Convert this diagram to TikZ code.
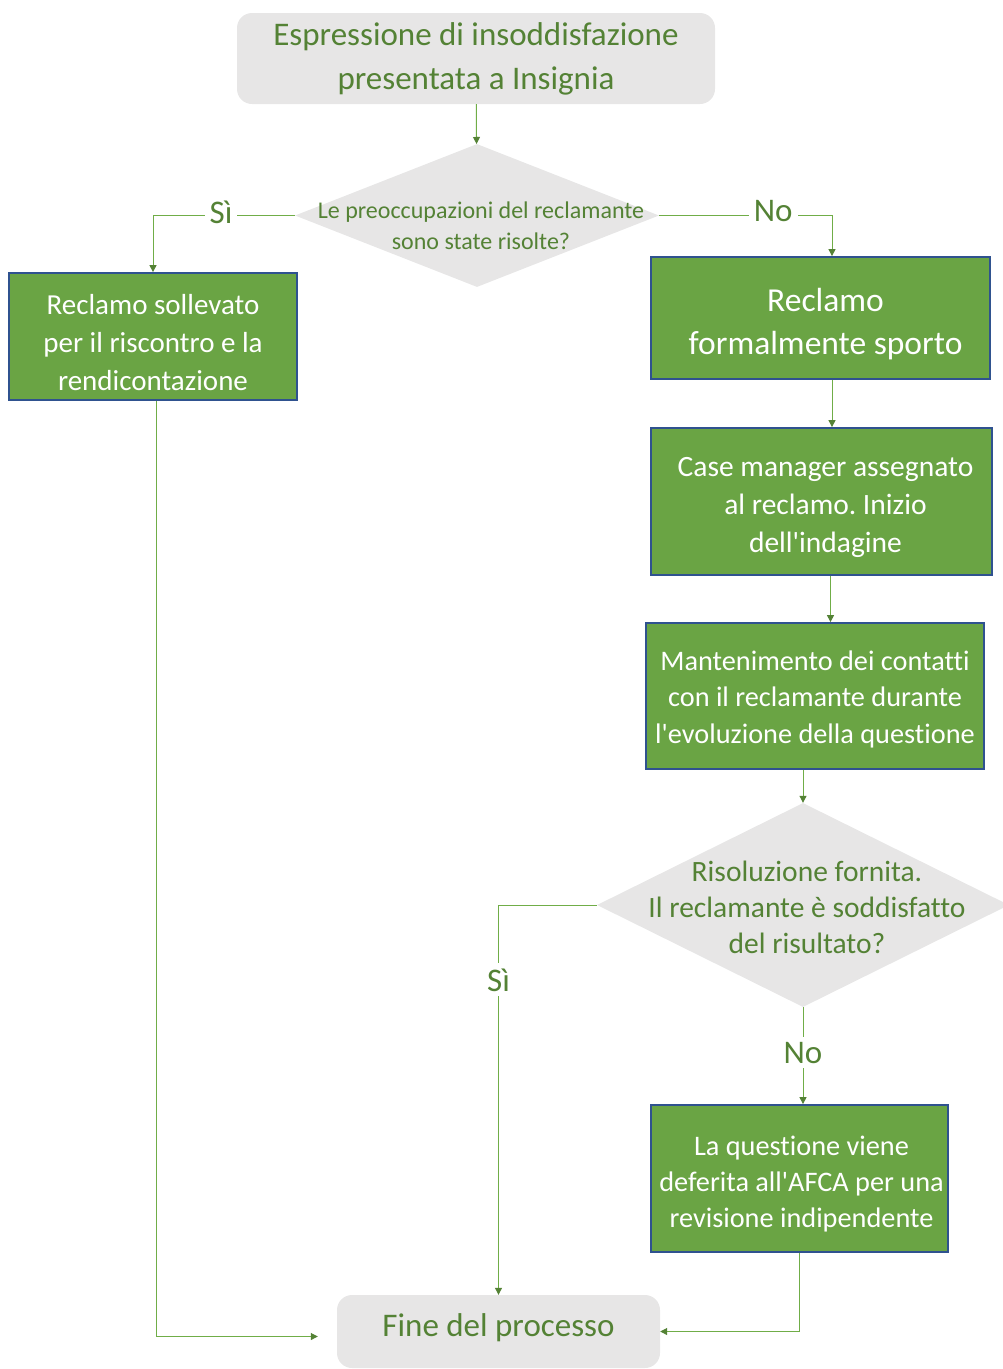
\documentclass[tikz,border=0pt]{standalone}
\usepackage{fontspec}
\setmainfont{Carlito}[Ligatures={NoCommon}]
\usepackage{tikz}
\usetikzlibrary{arrows.meta,positioning,shapes.geometric,calc}
\usepackage{xcolor}
\definecolor{boxgreen}{RGB}{106,164,68}
\definecolor{boxedge}{RGB}{47,82,143}
\definecolor{textgreen}{RGB}{84,130,53}
\definecolor{softgray}{RGB}{231,230,230}
\definecolor{linegreen}{RGB}{112,173,71}
\newcommand{\apos}{\textquotesingle}
\tikzset{
  stepbox/.style={draw=boxedge,line width=1.8pt,fill=boxgreen,inner sep=0pt},
  steptext/.style={text=white,align=center,inner sep=0pt,yshift=-6pt},
  endbox/.style={fill=softgray,rounded corners=15pt,inner sep=0pt},
  decision/.style={diamond,fill=softgray,inner sep=0pt},
  qtext/.style={text=textgreen,align=center,inner sep=0pt},
  flow/.style={-{Triangle[length=7pt,width=7pt,color=textgreen]},draw=linegreen,line width=1pt},
  answer/.style={fill=white,text=textgreen,inner sep=5pt,font=\fontsize{33}{36}\selectfont}
}

\begin{document}
\frenchspacing
\begin{tikzpicture}[x=1pt,y=-1pt]
\useasboundingbox (0,0) rectangle (1003,1369);
% start and first question
\node[endbox,minimum width=478pt,minimum height=91pt,
  label={[qtext,font=\fontsize{33}{44}\selectfont]center:Espressione di insoddisfazione\\presentata a Insignia}] (start) at (476,58.5) {};
\node[decision,minimum width=364pt,minimum height=143pt,
  label={[qtext,font=\fontsize{24}{31}\selectfont,xshift=4pt,yshift=-10pt]center:Le preoccupazioni del reclamante\\sono state risolte?}] (d1) at (477,215.5) {};
% left branch
\node[stepbox,minimum width=288pt,minimum height=127pt,
  label={[steptext,font=\fontsize{29}{38}\selectfont]center:Reclamo sollevato\\per il riscontro e la\\rendicontazione}] (logged) at (153,336.5) {};
% right branch
\node[stepbox,minimum width=339pt,minimum height=122pt,
  label={[steptext,xshift=5pt,font=\fontsize{33.5}{43}\selectfont]center:Reclamo\\formalmente sporto}] (formal) at (820.5,318) {};
\node[stepbox,minimum width=341pt,minimum height=147pt,
  label={[steptext,xshift=4pt,font=\fontsize{29.5}{38}\selectfont]center:Case manager assegnato\\al reclamo. Inizio\\dell\apos indagine}] (manager) at (821.5,501.5) {};
\node[stepbox,minimum width=338pt,minimum height=146pt,
  label={[steptext,yshift=3pt,font=\fontsize{28.3}{36.5}\selectfont]center:Mantenimento dei contatti\\con il reclamante durante\\l\apos evoluzione della questione}] (contact) at (815,696) {};
\node[decision,minimum width=412pt,minimum height=204pt,
  label={[qtext,font=\fontsize{29.5}{36}\selectfont,xshift=4pt,yshift=-2pt]center:Risoluzione fornita.\\Il reclamante è soddisfatto\\del risultato?}] (d2) at (803,905) {};
\node[stepbox,minimum width=297pt,minimum height=147pt,
  label={[steptext,xshift=2pt,font=\fontsize{28.3}{36}\selectfont]center:La questione viene\\deferita all\apos AFCA per una\\revisione indipendente}] (afca) at (799.5,1178.5) {};
% end
\node[endbox,minimum width=323pt,minimum height=73pt,
  label={[qtext,yshift=4pt,font=\fontsize{33}{36}\selectfont]center:Fine del processo}] (finish) at (498.5,1331.5) {};
% connectors
\draw[flow] (start) -- (d1);
\draw[flow] (d1.west) -| node[answer,pos=0.26,yshift=3pt]{Sì} (logged.north);
\draw[flow] (d1.east) -| node[answer,pos=0.33,yshift=4pt]{No} ([xshift=11.5pt]formal.north);
\draw[flow] ([xshift=11.5pt]formal.south) -- ([xshift=11.5pt]formal.south |- manager.north);
\draw[flow] ([xshift=9pt]manager.south) -- ([xshift=9pt]manager.south |- contact.north);
\draw[flow] (contact.south -| d2.north) -- (d2.north);
\draw[flow] (d2.west) -| node[answer,pos=0.596]{Sì} (finish.north);
\draw[flow] (d2.south) -- node[answer,pos=0.47]{No} (d2.south |- afca.north);
\draw[flow] (afca.south) |- (finish.east);
\draw[flow,shorten >=19pt] ([xshift=3pt]logged.south) |- ([yshift=-5pt]finish.west);
\end{tikzpicture}
\end{document}
